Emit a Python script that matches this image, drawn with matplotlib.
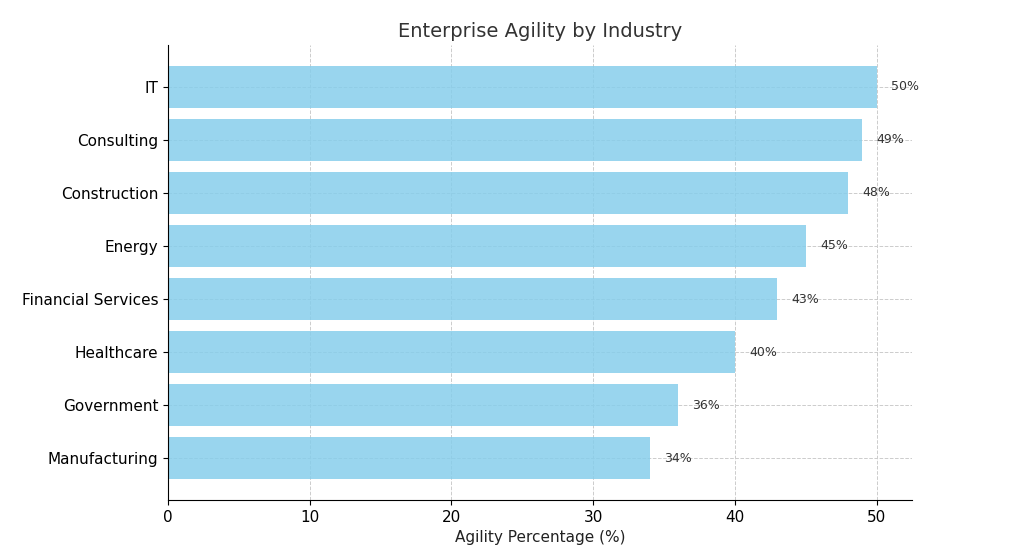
import matplotlib
matplotlib.use("Agg")
import matplotlib.pyplot as plt

industries = ["Manufacturing", "Government", "Healthcare", "Financial Services",
              "Energy", "Construction", "Consulting", "IT"]
values = [34, 36, 40, 43, 45, 48, 49, 50]

fig = plt.figure(figsize=(10.24, 5.57), dpi=100)
ax = fig.add_axes([168/1024, 1-500/557, (912-168)/1024, (500-45)/557])
bars = ax.barh(industries, values, color="#87CEEB", alpha=0.85, height=0.8)
for y, v in enumerate(values):
    ax.text(v + 1, y, f"{v}%", va="center", ha="left", fontsize=9, color="#333333")
ax.set_xlim(0, 52.5)
ax.set_title("Enterprise Agility by Industry", fontsize=14, color="#333333")
ax.set_xlabel("Agility Percentage (%)", fontsize=11, color="#222222")
ax.tick_params(labelsize=11)
ax.grid(True, linestyle="--", color="#cccccc", linewidth=0.7)
ax.set_axisbelow(True)
for s in ["top", "right"]:
    ax.spines[s].set_visible(False)
fig.savefig("out.png", dpi=100)
